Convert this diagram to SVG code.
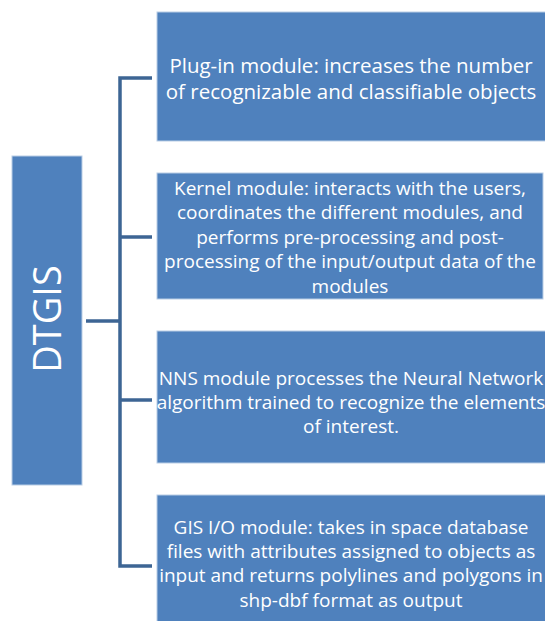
<svg xmlns="http://www.w3.org/2000/svg" width="545" height="621" viewBox="0 0 545 621">
<style>
.box{fill:#4f81bd;stroke:#b9cde5;stroke-width:1}
.t{font-family:"Open Sans","Noto Sans",sans-serif;font-size:19px;fill:#ffffff;text-anchor:middle}
.t1{font-size:20.5px}
.big{font-family:"Open Sans","Noto Sans",sans-serif;font-size:38px;fill:#ffffff;text-anchor:middle}
.c{fill:none;stroke:#3d6594;stroke-width:3.5}
</style>
<rect width="545" height="621" fill="#ffffff"/>
<g id="connectors">
<path class="c" d="M152,78 H120 V566 H152"/>
<path class="c" d="M120,237 H152"/>
<path class="c" d="M120,400 H152"/>
<path class="c" d="M86,321 H120"/>
</g>
<g id="dtgis">
<rect class="box" x="12" y="156" width="70" height="329"/>
<text class="big" transform="translate(46,319) rotate(-90)" dominant-baseline="central">DTGIS</text>
</g>
<g id="plugin">
<rect class="box" x="157" y="12" width="392" height="129"/>
<text class="t t1" x="351" y="73">Plug-in module: increases the number</text>
<text class="t t1" x="351" y="99">of recognizable and classifiable objects</text>
</g>
<g id="kernel">
<rect class="box" x="157" y="173" width="386" height="126"/>
<text class="t" x="350" y="195">Kernel module: interacts with the users,</text>
<text class="t" x="350" y="219">coordinates the different modules, and</text>
<text class="t" x="350" y="244">performs pre-processing and post-</text>
<text class="t" x="350" y="268">processing of the input/output data of the</text>
<text class="t" x="350" y="293">modules</text>
</g>
<g id="nns">
<rect class="box" x="157" y="331" width="392" height="132"/>
<text class="t" x="351" y="385">NNS module processes the Neural Network</text>
<text class="t" x="351" y="409">algorithm trained to recognize the elements</text>
<text class="t" x="351" y="433">of interest.</text>
</g>
<g id="gisio">
<rect class="box" x="157" y="495" width="392" height="140"/>
<text class="t" x="351" y="534">GIS I/O module: takes in space database</text>
<text class="t" x="351" y="558">files with attributes assigned to objects as</text>
<text class="t" x="351" y="582">input and returns polylines and polygons in</text>
<text class="t" x="351" y="607">shp-dbf format as output</text>
</g>
</svg>
